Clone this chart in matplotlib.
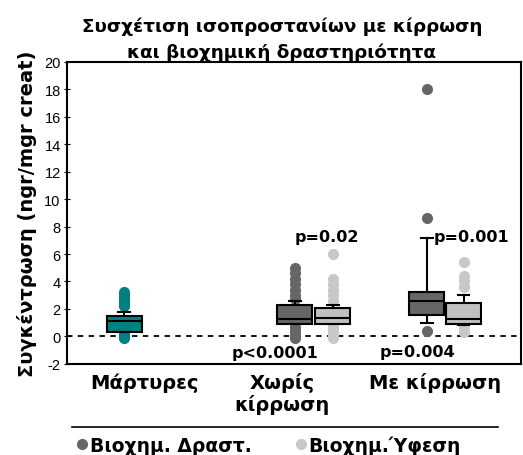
import matplotlib
matplotlib.use('Agg')
import matplotlib.pyplot as plt
from matplotlib.lines import Line2D

plt.rcParams['font.family'] = ['DejaVu Sans']

## Δεδομένα (εκτίμηση από την εικόνα)
ομαδες = ['Μάρτυρες', 'Χωρίς\nκίρρωση', 'Με κίρρωση']
σειρες = ['Βιοχημ. Δραστ.', 'Βιοχημ.Ύφεση']

# κουτιά: μάρτυρες, χωρίς κίρρωση (δραστ., ύφεση), με κίρρωση (δραστ., ύφεση)
q1 = [0.35, 0.9, 0.9, 1.55, 0.9]
median = [1.1, 1.25, 1.35, 2.55, 1.3]
q3 = [1.5, 2.3, 2.05, 3.2, 2.4]
whis_lo = [0.35, 0.9, 0.9, 1.0, 0.8]
whis_hi = [1.8, 2.6, 2.3, 7.2, 3.0]
fliers = [
    [3.2, 3.0, 2.8, 2.6, 2.4, 2.2, 0.2, 0.0, -0.1],
    [5.0, 4.6, 4.2, 3.8, 3.4, 3.0, 2.7, 0.7, 0.4, 0.1, -0.1],
    [6.0, 4.2, 3.8, 3.4, 3.0, 2.6, 0.7, 0.4, 0.1, -0.1],
    [18.0, 8.6, 0.4],
    [5.4, 4.4, 4.0, 3.6, 0.8, 0.5, 0.3],
]
p_labels = ['p=0.02', 'p<0.0001', 'p=0.004', 'p=0.001']
p_values_y = [7.3, -1.2, -1.1, 7.3]

## Θέσεις / στυλ
positions = [0.126, 0.502, 0.586, 0.793, 0.874]
cat_pos = [0.17, 0.474, 0.81]
face = ['#008080', '#666666', '#c0c0c0', '#666666', '#c0c0c0']
p_x = [0.573, 0.458, 0.773, 0.89]

fig = plt.figure(figsize=(5.23, 4.56), dpi=100)
ax = fig.add_axes([0.128, 0.2, 0.868, 0.662])

stats = []
for i in range(len(q1)):
    stats.append(dict(q1=q1[i], med=median[i], q3=q3[i],
                      whislo=whis_lo[i], whishi=whis_hi[i], fliers=[]))

bp = ax.bxp(stats, positions=positions, widths=0.077, patch_artist=True,
            showfliers=False, capwidths=0.025,
            medianprops=dict(color='black', linewidth=1.5),
            boxprops=dict(edgecolor='black', linewidth=1.5),
            whiskerprops=dict(color='black', linewidth=1.5),
            capprops=dict(color='black', linewidth=1.5))
for patch, c in zip(bp['boxes'], face):
    patch.set_facecolor(c)

for pos, fl, c in zip(positions, fliers, face):
    mc = c if c != '#c0c0c0' else '#c8c8c8'
    ax.plot([pos] * len(fl), fl, 'o', color=mc, markersize=8,
            markeredgewidth=0, zorder=1)

ax.axhline(0, color='black', linestyle=(0, (3, 3)), linewidth=1.3, zorder=0)

for txt, x, y in zip(p_labels, p_x, p_values_y):
    ax.text(x, y, txt, ha='center', va='center', fontsize=11.5, fontweight='bold')

ax.set_xlim(0, 1)
ax.set_ylim(-2, 20)
ax.set_yticks(range(-2, 21, 2))
ax.set_yticklabels([str(v) for v in range(-2, 21, 2)], family='Liberation Sans')
ax.tick_params(axis='y', direction='inout', length=5, labelsize=10.5, pad=2)
ax.set_xticks(cat_pos)
ax.set_xticklabels(ομαδες, fontsize=14, fontweight='bold', linespacing=1.1)
ax.tick_params(axis='x', length=0, pad=6)
for s in ax.spines.values():
    s.set_linewidth(1.5)

ax.set_ylabel('Συγκέντρωση (ngr/mgr creat)', fontsize=14, fontweight='bold', labelpad=5)
fig.text(0.539, 0.913, 'Συσχέτιση ισοπροστανίων με κίρρωση\nκαι βιοχημική δραστηριότητα',
         ha='center', va='center', fontsize=13.2, fontweight='bold', linespacing=1.55)

fig.add_artist(Line2D([0.138, 0.952], [0.061, 0.061], color='black', linewidth=1.2))

handles = [Line2D([], [], marker='o', linestyle='', color='#666666', markersize=7),
           Line2D([], [], marker='o', linestyle='', color='#c8c8c8', markersize=7)]
fig.legend(handles, σειρες, loc='center', bbox_to_anchor=(0.515, 0.022), ncol=2,
           frameon=False, handlelength=0.5, handletextpad=0.15, columnspacing=2.4,
           prop=dict(size=13.5, weight='bold'))

fig.savefig('out.png', dpi=100)
